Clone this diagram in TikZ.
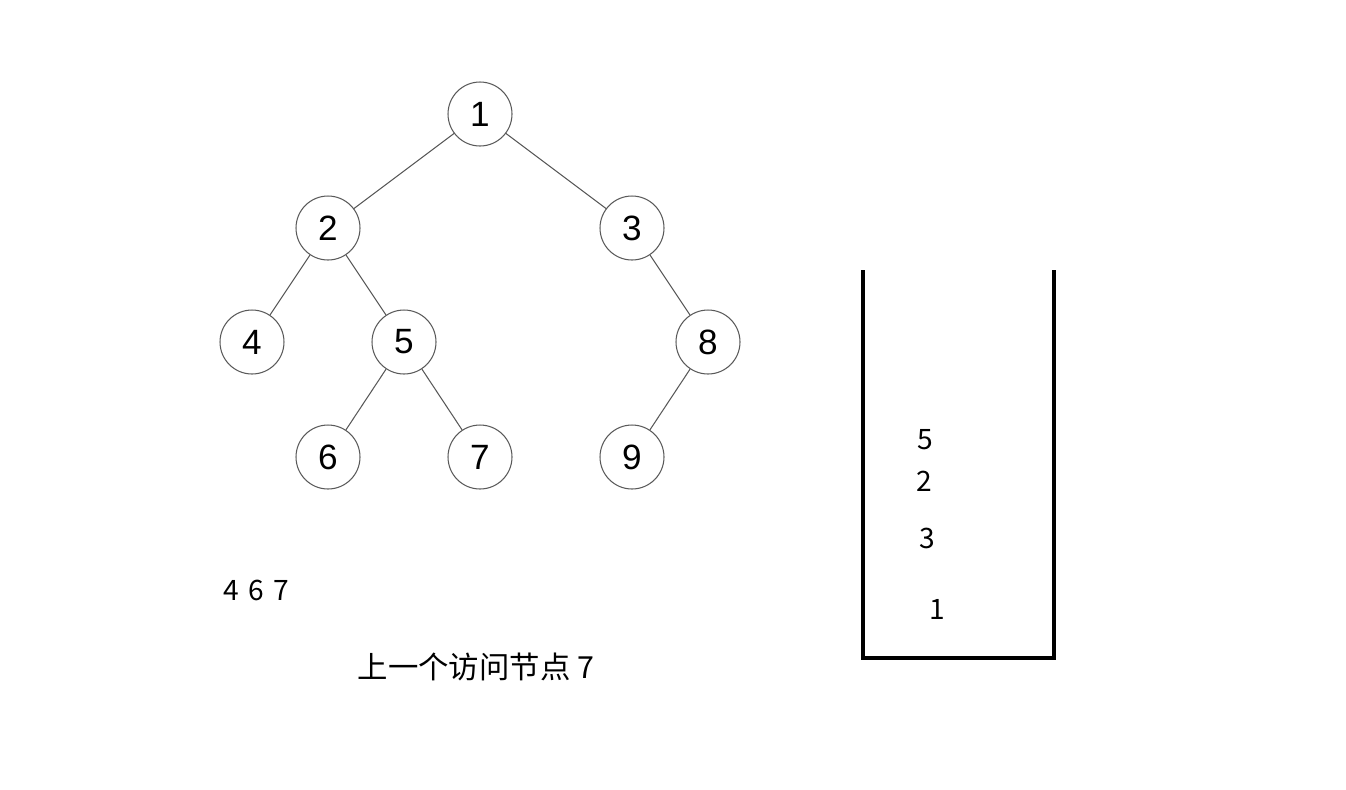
\documentclass[tikz,border=0pt]{standalone}
\usepackage{fontspec}
\setmainfont{Liberation Sans}
\newfontfamily\cjkfont{Noto Sans CJK SC}
\tikzset{
    treenode/.style={circle, draw=black!65, line width=0.6pt, minimum size=1.28cm, inner sep=0pt, font=\fontsize{20}{20}\selectfont},
    treeedge/.style={draw=black!65, line width=0.6pt},
    stacktext/.style={font=\cjkfont\fontsize{16}{16}\selectfont}
}

\begin{document}
\begin{tikzpicture}[x=0.02cm, y=-0.02cm]
    \useasboundingbox (0,0) rectangle (1346,789);
    % tree
    \node[treenode] (n1) at (480,114) {1};
    \node[treenode] (n2) at (328,228) {2};
    \node[treenode] (n3) at (632,228) {3};
    \node[treenode] (n4) at (252,342) {4};
    \node[treenode] (n5) at (404,342) {5};
    \node[treenode] (n8) at (708,342) {8};
    \node[treenode] (n6) at (328,457) {6};
    \node[treenode] (n7) at (480,457) {7};
    \node[treenode] (n9) at (632,457) {9};
    \foreach \a/\b in {n1/n2, n1/n3, n2/n4, n2/n5, n3/n8, n5/n6, n5/n7, n8/n9}
        \draw[treeedge] (\a) -- (\b);
    % stack
    \draw[line width=2.2pt] (863,270) -- (863,658) -- (1054,658) -- (1054,270);
    \node[stacktext] (s5) at (925,440) {5};
    \node[stacktext] (s2) at (924,481) {2};
    \node[stacktext] (s3) at (927,538) {3};
    \node[stacktext] (s1) at (937,609) {1};
    % output and last visited
    \node[stacktext, anchor=west] (out) at (217,590) {4\,\,6\,\,7};
    \node[stacktext, font=\cjkfont\fontsize{17.3}{17.3}\selectfont] (last) at (476,667) {上一个访问节点 7};
\end{tikzpicture}
\end{document}
